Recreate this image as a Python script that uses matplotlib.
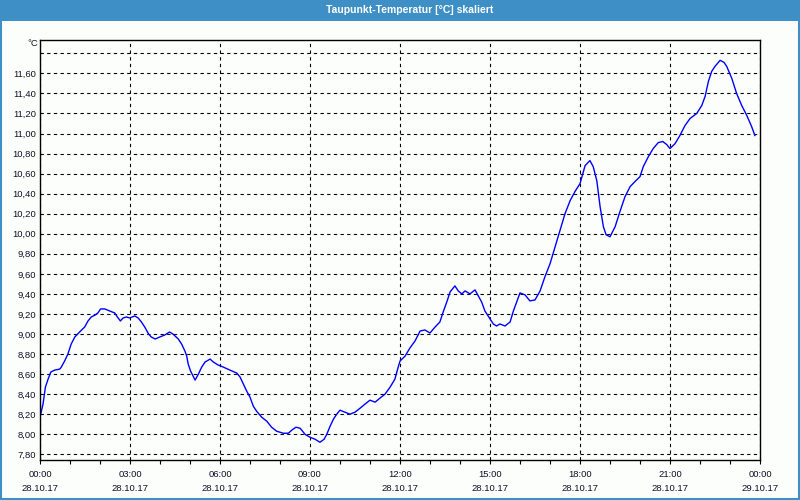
import matplotlib
matplotlib.use('Agg')
import matplotlib.pyplot as plt
from matplotlib.patches import Rectangle
from matplotlib.ticker import FixedLocator, MultipleLocator, FixedFormatter

# dew point readings, hours since 28.10.17 00:00
hours = [0.00, 0.10, 0.18, 0.27, 0.36, 0.49, 0.66, 0.71, 0.82, 0.93, 1.04, 1.16, 1.32, 1.49,
         1.60, 1.71, 1.84, 1.93, 2.02, 2.16, 2.32, 2.49, 2.58, 2.68, 2.77, 2.88, 2.99, 3.16,
         3.27, 3.38, 3.49, 3.62, 3.71, 3.84, 3.99, 4.16, 4.32, 4.43, 4.61, 4.72, 4.83, 4.89,
         4.94, 5.02, 5.17, 5.28, 5.39, 5.50, 5.67, 5.78, 5.94, 6.11, 6.33, 6.56, 6.67, 6.78,
         6.89, 7.00, 7.11, 7.22, 7.39, 7.56, 7.72, 7.89, 8.11, 8.28, 8.39, 8.53, 8.67, 8.78,
         8.83, 9.00, 9.17, 9.33, 9.47, 9.56, 9.67, 9.78, 9.89, 10.00, 10.17, 10.33, 10.50,
         10.67, 10.83, 11.00, 11.17, 11.33, 11.50, 11.67, 11.83, 11.94, 12.00, 12.17, 12.33,
         12.50, 12.67, 12.83, 13.00, 13.17, 13.33, 13.44, 13.56, 13.67, 13.83, 13.94, 14.06,
         14.17, 14.33, 14.50, 14.61, 14.72, 14.83, 15.00, 15.11, 15.22, 15.33, 15.50, 15.67,
         15.78, 15.89, 16.00, 16.17, 16.33, 16.50, 16.67, 16.83, 17.00, 17.17, 17.33, 17.50,
         17.67, 17.83, 18.00, 18.17, 18.33, 18.44, 18.56, 18.67, 18.78, 18.87, 19.00, 19.17,
         19.33, 19.50, 19.67, 19.83, 20.00, 20.11, 20.28, 20.44, 20.61, 20.76, 20.89, 21.00,
         21.17, 21.33, 21.50, 21.67, 21.89, 22.06, 22.17, 22.28, 22.39, 22.50, 22.67, 22.80,
         22.89, 23.06, 23.22, 23.39, 23.56, 23.72, 23.83]
dewpoint = [8.17, 8.30, 8.47, 8.55, 8.62, 8.64, 8.65, 8.67, 8.73, 8.80, 8.90, 8.97, 9.02, 9.07,
            9.13, 9.17, 9.19, 9.21, 9.25, 9.25, 9.23, 9.21, 9.17, 9.13, 9.16, 9.17, 9.16, 9.18,
            9.16, 9.12, 9.07, 9.00, 8.97, 8.95, 8.97, 8.99, 9.02, 9.00, 8.95, 8.90, 8.83, 8.78,
            8.70, 8.63, 8.54, 8.60, 8.67, 8.72, 8.75, 8.72, 8.69, 8.67, 8.64, 8.61, 8.57, 8.50,
            8.43, 8.37, 8.28, 8.23, 8.17, 8.13, 8.07, 8.03, 8.01, 8.01, 8.04, 8.07, 8.06, 8.02,
            8.00, 7.97, 7.95, 7.92, 7.95, 8.00, 8.08, 8.15, 8.20, 8.24, 8.22, 8.20, 8.22,
            8.26, 8.30, 8.34, 8.32, 8.36, 8.40, 8.47, 8.55, 8.67, 8.73, 8.78, 8.86,
            8.93, 9.03, 9.04, 9.01, 9.07, 9.12, 9.22, 9.32, 9.42, 9.48, 9.43, 9.40,
            9.43, 9.40, 9.44, 9.38, 9.32, 9.23, 9.15, 9.10, 9.08, 9.10, 9.08, 9.12,
            9.23, 9.32, 9.41, 9.39, 9.33, 9.34, 9.43, 9.57, 9.70, 9.87, 10.03, 10.20,
            10.33, 10.42, 10.50, 10.68, 10.73, 10.67, 10.53, 10.27, 10.07, 9.99, 9.97, 10.07,
            10.22, 10.37, 10.47, 10.52, 10.57, 10.67, 10.77, 10.85, 10.91, 10.92, 10.89, 10.85,
            10.90, 10.98, 11.08, 11.15, 11.20, 11.28, 11.37, 11.52, 11.62, 11.67, 11.73, 11.71,
            11.67, 11.55, 11.40, 11.28, 11.18, 11.07, 10.98]

tick_hours = [0, 3, 6, 9, 12, 15, 18, 21, 24]
tick_times = ['00:00', '03:00', '06:00', '09:00', '12:00', '15:00', '18:00', '21:00', '00:00']
tick_dates = ['28.10.17'] * 8 + ['29.10.17']
y_ticks = [7.8, 8.0, 8.2, 8.4, 8.6, 8.8, 9.0, 9.2, 9.4, 9.6, 9.8, 10.0, 10.2, 10.4,
           10.6, 10.8, 11.0, 11.2, 11.4, 11.6, 11.8]
y_labels = ['7,80', '8,00', '8,20', '8,40', '8,60', '8,80', '9,00', '9,20', '9,40', '9,60',
            '9,80', '10,00', '10,20', '10,40', '10,60', '10,80', '11,00', '11,20', '11,40',
            '11,60', '']

plt.rcParams['font.family'] = ['Liberation Sans', 'DejaVu Sans']
blue = '#3d8fc6'
txt = '#101028'

fig = plt.figure(figsize=(8, 5), dpi=100, facecolor='#fcfefc')
ax = fig.add_axes([40 / 800, 1 - 460.3 / 500, 720 / 800, 420 / 500])
ax.set_facecolor('#fcfefc')

ax.plot(hours, dewpoint, color='#0000ff', lw=1.0)

ax.set_xlim(0, 24)
ax.set_ylim(7.74, 11.93)

ax.xaxis.set_major_locator(FixedLocator(tick_hours))
ax.xaxis.set_major_formatter(FixedFormatter([t + '\n' + d for t, d in zip(tick_times, tick_dates)]))
ax.xaxis.set_minor_locator(MultipleLocator(1))
ax.yaxis.set_major_locator(FixedLocator(y_ticks))
ax.yaxis.set_major_formatter(FixedFormatter(y_labels))

ax.tick_params(axis='x', which='both', direction='out', length=3, width=0.8, color='black',
               labelsize=6.8, labelcolor=txt, pad=4)
ax.tick_params(axis='y', length=0, labelsize=6.8, labelcolor=txt, pad=3)
for lab in ax.get_xticklabels():
    lab.set_linespacing(1.75)

ax.grid(True, which='major', color='black', linestyle=(0, (3, 3)), linewidth=0.8)
for s in ax.spines.values():
    s.set_color('black')
    s.set_linewidth(1.0)

fig.text(38 / 800, 1 - 44 / 500, '°C', ha='right', va='center', fontsize=6.8, color=txt)

# title bar and outer frame
fig.patches.append(Rectangle((0, 1 - 20.5 / 500), 1, 20.5 / 500, transform=fig.transFigure,
                             facecolor=blue, edgecolor='none', zorder=0))
fig.patches.append(Rectangle((0.001, 0.002), 0.998, 0.996, transform=fig.transFigure,
                             facecolor='none', edgecolor=blue, lw=1.5, zorder=1))
fig.text(410 / 800, 1 - 10 / 500, 'Taupunkt-Temperatur [°C] skaliert', ha='center', va='center',
         fontsize=7.5, color='white', fontweight='bold')

fig.savefig('out.png', dpi=100, facecolor=fig.get_facecolor())
